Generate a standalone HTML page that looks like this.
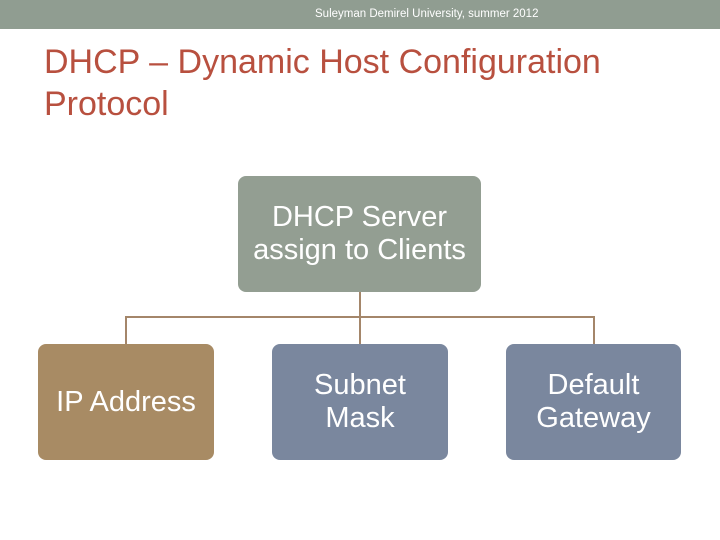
<!DOCTYPE html>
<html><head><style>
body{margin:0;width:720px;height:540px;background:#fff;position:relative;font-family:"Liberation Sans",Arial,sans-serif;overflow:hidden}
.bar{position:absolute;left:0;top:0;width:720px;height:29px;background:#909d91}
.bar span{position:absolute;left:315px;top:8px;font-size:11.5px;color:#fff}
.t{position:absolute;left:44px;top:41px;font-size:34px;line-height:42px;color:#b8503f}
.b{position:absolute;border-radius:8px;color:#fff;display:flex;align-items:center;justify-content:center;text-align:center;font-size:29px;line-height:33px}
.l{position:absolute;background:#a4866a}
</style></head><body>
<div class="bar"><span>Suleyman Demirel University, summer 2012</span></div>
<div class="t">DHCP – Dynamic Host Configuration<br>Protocol</div>
<div class="b" style="left:238px;top:176px;width:243px;height:116px;background:#939e92">DHCP Server<br>assign to Clients</div>
<div class="l" style="left:359px;top:292px;width:2px;height:52px"></div>
<div class="l" style="left:125px;top:316px;width:470px;height:2px"></div>
<div class="l" style="left:125px;top:316px;width:2px;height:28px"></div>
<div class="l" style="left:593px;top:316px;width:2px;height:28px"></div>
<div class="b" style="left:38px;top:344px;width:176px;height:116px;background:#a88b64">IP Address</div>
<div class="b" style="left:272px;top:344px;width:176px;height:116px;background:#7a879e">Subnet<br>Mask</div>
<div class="b" style="left:506px;top:344px;width:175px;height:116px;background:#7a879e">Default<br>Gateway</div>
</body></html>
